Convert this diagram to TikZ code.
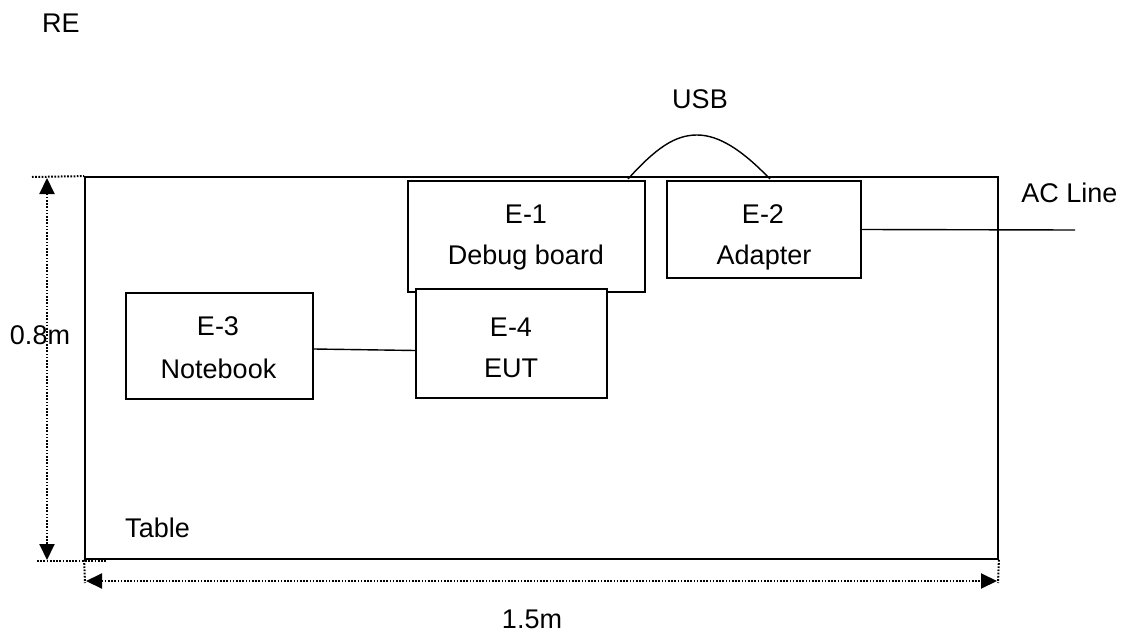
\documentclass[tikz,border=0pt]{standalone}
\usepackage{fontspec}
\setmainfont{Liberation Sans}
\usetikzlibrary{arrows.meta,calc}
\begin{document}
\begin{tikzpicture}[x=1pt,y=-1pt,
  every node/.style={font=\fontsize{27}{40}\selectfont, inner sep=0pt},
  txt/.style={anchor=base},
  box/.style={draw, line width=1.8pt, fill=white},
  wire/.style={line width=1.4pt},
  dimline/.style={line width=2pt, dash pattern=on 1.7pt off 1.5pt},
  dimarrow/.style={dimline, {Triangle[length=16pt,width=15pt]}-{Triangle[length=16pt,width=15pt]}}
]
\useasboundingbox (0,0) rectangle (1125,634);
% table
\node[box, minimum width=913pt, minimum height=382pt] (table) at (541.5,368) {};
\node[txt] (tablelbl) at (157.5,537) {Table};
% devices
\node[box, minimum width=237pt, minimum height=111pt] (e1) at (526.5,236.5) {};
\node[txt] (e1a) at (526,223) {E-1};
\node[txt] (e1b) at (526,264) {Debug board};
\node[box, minimum width=194pt, minimum height=97pt] (e2) at (764,229.5) {};
\node[txt] (e2a) at (763,223) {E-2};
\node[txt] (e2b) at (764,264) {Adapter};
\node[box, minimum width=187pt, minimum height=106pt] (e3) at (219.5,346) {};
\node[txt] (e3a) at (218,335) {E-3};
\node[txt] (e3b) at (218.5,378) {Notebook};
\node[box, minimum width=191pt, minimum height=109pt] (e4) at (511.5,343.5) {};
\node[txt] (e4a) at (511,336) {E-4};
\node[txt] (e4b) at (511,377) {EUT};
% connections
\coordinate (usbA) at (628,179);
\coordinate (usbB) at (770,179);
\draw[wire] (usbA) .. controls (656,148) and (675,135) .. (697,135)
                   .. controls (719,135) and (742,150) .. (usbB);
\node[txt] (usb) at (700,108) {USB};
\coordinate (acend) at (1075,230);
\draw[wire] (e2.east) -- (acend);
\node[txt] (ac) at (1069.5,202) {AC Line};
\draw[wire] ($(e3.east)+(0,3)$) -- ($(e4.west)+(0,7)$);
% top-left label
\node[txt] (re) at (61,33) {RE};
% dimension: height
\coordinate (htop) at (32,177);
\coordinate (hbotL) at (37,561);
\coordinate (hbotR) at (107,561);
\draw[dimline] (htop) -- (table.north west);
\draw[dimline] (hbotL) -- (hbotR);
\coordinate (va) at (47,178);
\coordinate (vb) at (47,560);
\draw[dimarrow] (va) -- (vb);
\node[txt] (h) at (40,344) {0.8m};
% dimension: width
\coordinate (wl) at (86,581);
\coordinate (wr) at (997,581);
\draw[dimline] (table.south west) -- ($(wl)+(-1,2)$);
\draw[dimline] (table.south east) -- ($(wr)+(1,2)$);
\draw[dimarrow] (wl) -- (wr);
\node[txt] (w) at (532,628) {1.5m};
\end{tikzpicture}
\end{document}
